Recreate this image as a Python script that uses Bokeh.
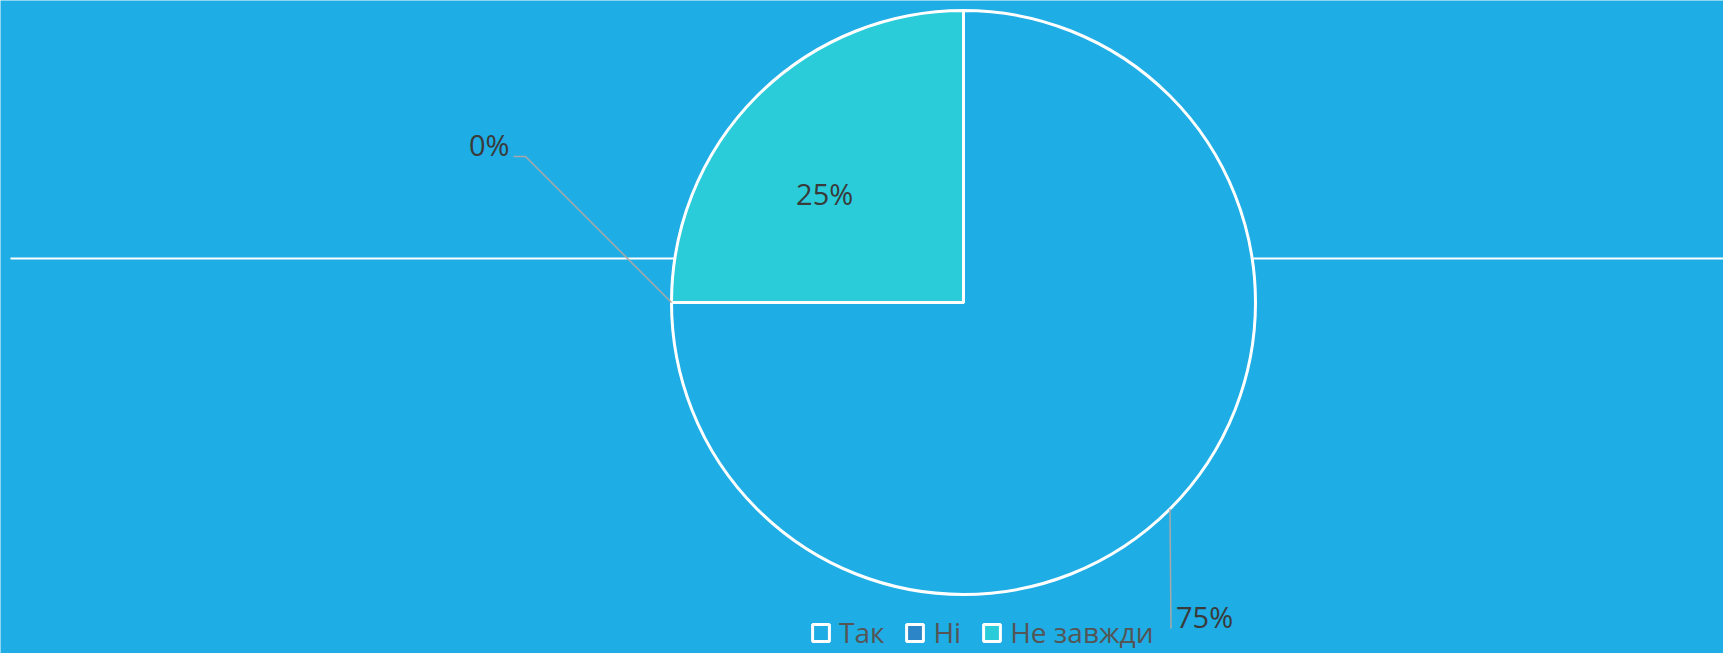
import math
from bokeh.plotting import figure
from bokeh.models import Range1d, ColumnDataSource, Legend, LegendItem
from bokeh.core.properties import value
from bokeh.embed import file_html
from bokeh.resources import INLINE

# ---- data ----
categories = ["Так", "Ні", "Не завжди"]
values = [75, 0, 25]
colors = ["#1EADE4", "#2B85C7", "#29CCD8"]
label_texts = ["75%", "0%", "25%"]

BG = "#1EADE4"
FONT = "Open Sans"
W, H = 1723, 653

p = figure(width=W, height=H, x_range=Range1d(0, W), y_range=Range1d(0, H),
           output_backend="svg", toolbar_location=None, min_border=0,
           background_fill_color=BG, border_fill_color=BG, outline_line_color=None)
p.axis.visible = False
p.grid.visible = False

# pie layout
cx, cy, R = 963, 351, 292
TXT_DY = 12  # lift of label text relative to its anchor

# white horizontal line behind the pie
p.segment(x0=[10], y0=[cy + 44], x1=[W], y1=[cy + 44], line_color="white", line_width=2)

total = sum(values)
cum = 0.0
renderers = []
mids = []
for cat, v, c in zip(categories, values, colors):
    start = math.pi / 2 - cum / total * 2 * math.pi
    cum += v
    end = math.pi / 2 - cum / total * 2 * math.pi
    mids.append((start + end) / 2)
    src = ColumnDataSource(dict(x=[cx], y=[cy], r=[R if v > 0 else 0], s=[start], e=[end]))
    r = p.wedge(x="x", y="y", radius="r", start_angle="s", end_angle="e", direction="clock",
                fill_color=c, line_color="white", line_width=3, source=src)
    renderers.append(r)

# data labels
lab_color = "#3a3a3a"
lab_size = "29px"
for i, (v, txt, a) in enumerate(zip(values, label_texts, mids)):
    ex, ey = cx + R * math.cos(a), cy + R * math.sin(a)
    if i == 0:
        # outside, vertical connector downward
        ly = 25
        p.line([ex, ex + 1], [ey, ly], line_color="#a8a8a8", line_width=1.5)
        p.text(x=[ex + 6], y=[ly + TXT_DY], text=[txt], text_align="left", text_baseline="alphabetic",
               text_font=value(FONT), text_font_size=lab_size, text_color=lab_color)
    elif i == 1:
        # outside, diagonal connector up-left
        bx, by = ex - 146, ey + 146
        p.line([ex, bx, bx - 12], [ey, by, by], line_color="#a8a8a8", line_width=1.5)
        p.text(x=[bx - 16], y=[by + TXT_DY], text=[txt], text_align="right", text_baseline="alphabetic",
               text_font=value(FONT), text_font_size=lab_size, text_color=lab_color)
    else:
        lx = cx + 0.6 * R * math.cos(a) - 15
        ly = cy + 0.6 * R * math.sin(a) - 27
        p.text(x=[lx], y=[ly + TXT_DY], text=[txt], text_align="center", text_baseline="alphabetic",
               text_font=value(FONT), text_font_size=lab_size, text_color=lab_color)

legend = Legend(items=[LegendItem(label=c, renderers=[r]) for c, r in zip(categories, renderers)],
                orientation="horizontal", location=(810, 2),
                glyph_width=21, glyph_height=21, label_standoff=8, spacing=20,
                padding=0, margin=0, border_line_color=None, background_fill_alpha=0,
                label_text_font=FONT, label_text_font_size="28px", label_text_color="#555555")
p.add_layout(legend, "center")

open("out.html", "w").write(file_html(p, INLINE))
